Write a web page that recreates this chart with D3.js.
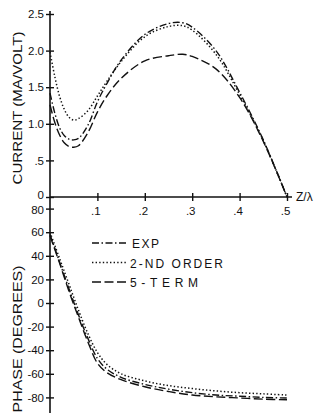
<!DOCTYPE html>
<html>
<head>
<meta charset="utf-8">
<script src="https://cdn.jsdelivr.net/npm/d3@7"></script>
<style>
  body { margin: 0; background: #fff; }
  text { font-family: "Liberation Sans", "DejaVu Sans", sans-serif; fill: #111; }
</style>
</head>
<body>
<div id="chart"></div>
<script>
// current panel (z / lambda vs. MA/VOLT)
const zCur = [0, 0.01, 0.02, 0.03, 0.04, 0.05, 0.06, 0.08, 0.1, 0.12, 0.15, 0.2, 0.25, 0.28, 0.3, 0.35, 0.4, 0.45, 0.5];
const curExp = [1.42, 1.15, 0.95, 0.84, 0.79, 0.78, 0.80, 0.98, 1.30, 1.55, 1.87, 2.22, 2.37, 2.38, 2.32, 2.00, 1.43, 0.78, 0.0];
const cur2nd = [1.98, 1.65, 1.38, 1.20, 1.09, 1.05, 1.07, 1.18, 1.38, 1.58, 1.85, 2.19, 2.33, 2.34, 2.28, 1.95, 1.40, 0.77, 0.0];
const cur5 = [1.26, 1.02, 0.85, 0.74, 0.69, 0.68, 0.70, 0.88, 1.16, 1.38, 1.62, 1.86, 1.93, 1.95, 1.92, 1.75, 1.36, 0.76, 0.0];

// phase panel (degrees)
const zPh = [0, 0.02, 0.04, 0.06, 0.08, 0.1, 0.12, 0.15, 0.2, 0.25, 0.3, 0.35, 0.4, 0.45, 0.5];
const phExp = [58, 35, 12, -10, -30, -47, -56, -63, -69, -73, -76, -78, -79, -80, -80.5];
const ph2nd = [60, 38, 16, -6, -26, -42, -52, -60, -66, -70, -72.5, -74.5, -76, -77, -78];
const ph5 = [57, 34, 10, -12, -33, -51, -59, -65, -71, -75, -78, -79.5, -80.5, -81.5, -82];

const zTicks = [0.1, 0.2, 0.3, 0.4, 0.5];
const zTickLabels = ['.1', '.2', '.3', '.4', '.5'];
const curTicks = [0, 0.5, 1.0, 1.5, 2.0, 2.5];
const curTickLabels = ['0', '.5', '1.0', '1.5', '2.0', '2.5'];
const phTicks = [80, 60, 40, 20, 0, -20, -40, -60, -80];
const phTickLabels = ['80', '60', '40', '20', '0', '-20', '-40', '-60', '-80'];

const legendLabels = ['EXP', '2-ND ORDER', '5-TERM'];

const W = 322, H = 413;
const dashes = ['7,2.5,1.5,2.5', '1.4,2.2', '9,3.5'];

const svg = d3.select('#chart').append('svg')
  .attr('width', W).attr('height', H);

const x = d3.scaleLinear().domain([0, 0.5]).range([50, 287]);
const yCur = d3.scaleLinear().domain([0, 2.5]).range([197, 14]);
const yPh = d3.scaleLinear().domain([-80, 80]).range([397.4, 208.6]);

// long vertical axis running through both panels
svg.append('line')
  .attr('x1', x(0)).attr('x2', x(0))
  .attr('y1', 11).attr('y2', H)
  .attr('stroke', '#111').attr('stroke-width', 1.6);

// top x axis
const xAxis = svg.append('g')
  .attr('transform', `translate(0,${yCur(0)})`)
  .call(d3.axisBottom(x).tickValues(zTicks).tickSize(4).tickPadding(6)
    .tickFormat((d, i) => zTickLabels[i]));
xAxis.select('.domain').attr('d', `M${x(0)},0H${x(0.5) + 5}`);

const yAxisCur = svg.append('g')
  .attr('transform', `translate(${x(0)},0)`)
  .call(d3.axisLeft(yCur).tickValues(curTicks).tickSize(4).tickPadding(2)
    .tickFormat((d, i) => curTickLabels[i]));
yAxisCur.select('.domain').remove();

const yAxisPh = svg.append('g')
  .attr('transform', `translate(${x(0)},0)`)
  .call(d3.axisLeft(yPh).tickValues(phTicks).tickSize(4).tickPadding(2)
    .tickFormat((d, i) => phTickLabels[i]));
yAxisPh.select('.domain').remove();

// ticks cross the axis line
svg.selectAll('.tick line').attr('stroke', '#111').attr('stroke-width', 1.4);
xAxis.selectAll('.tick line').attr('y1', -4);
yAxisCur.selectAll('.tick line').attr('x1', 4);
yAxisPh.selectAll('.tick line').attr('x1', 4);
svg.selectAll('.domain').attr('stroke', '#111').attr('stroke-width', 1.6);
svg.selectAll('.tick text')
  .style('font-family', '"Liberation Sans", "DejaVu Sans", sans-serif')
  .style('font-size', '11.5px').attr('fill', '#111');
xAxis.selectAll('.tick text').attr('dx', -2);
// keep the "0" and "80" labels at the panel join apart
yAxisCur.selectAll('.tick text').filter(d => d === 0).attr('dy', '0.1em');
yAxisPh.selectAll('.tick text').filter(d => d === 80).attr('dy', '0.45em');

svg.append('text')
  .attr('x', 296).attr('y', 201)
  .style('font-size', '12px')
  .text('Z/\u03bb');

// axis titles
svg.append('text')
  .attr('transform', 'translate(22,108) rotate(-90)')
  .attr('text-anchor', 'middle')
  .attr('textLength', 153).attr('lengthAdjust', 'spacingAndGlyphs')
  .style('font-size', '13.5px')
  .text('CURRENT (MA/VOLT)');

svg.append('text')
  .attr('transform', 'translate(22,339) rotate(-90)')
  .attr('text-anchor', 'middle')
  .attr('textLength', 147).attr('lengthAdjust', 'spacingAndGlyphs')
  .style('font-size', '13.5px')
  .text('PHASE (DEGREES)');

// curves
const lineCur = d3.line().x((d, i) => x(zCur[i])).y(d => yCur(d)).curve(d3.curveCatmullRom.alpha(0.5));
const linePh = d3.line().x((d, i) => x(zPh[i])).y(d => yPh(d)).curve(d3.curveCatmullRom.alpha(0.5));

[curExp, cur2nd, cur5].forEach((s, k) => {
  svg.append('path').attr('d', lineCur(s))
    .attr('fill', 'none').attr('stroke', '#111')
    .attr('stroke-width', k === 1 ? 1.5 : 1.4)
    .attr('stroke-dasharray', dashes[k]);
});
[phExp, ph2nd, ph5].forEach((s, k) => {
  svg.append('path').attr('d', linePh(s))
    .attr('fill', 'none').attr('stroke', '#111')
    .attr('stroke-width', k === 1 ? 1.5 : 1.4)
    .attr('stroke-dasharray', dashes[k]);
});

// legend
const leg = svg.append('g').selectAll('g')
  .data(legendLabels).enter().append('g')
  .attr('transform', (d, i) => `translate(92,${243 + i * 19.5})`);
leg.append('line')
  .attr('x1', 0).attr('x2', 36).attr('y1', 0).attr('y2', 0)
  .attr('stroke', '#111').attr('stroke-width', 1.4)
  .attr('stroke-dasharray', (d, i) => dashes[i]);
leg.append('text')
  .attr('x', (d, i) => i === 0 ? 40 : 38).attr('y', 5)
  .style('font-size', '12px')
  .attr('textLength', (d, i) => [27, 93, 68][i])
  .attr('lengthAdjust', 'spacing')
  .text(d => d);
</script>
</body>
</html>
